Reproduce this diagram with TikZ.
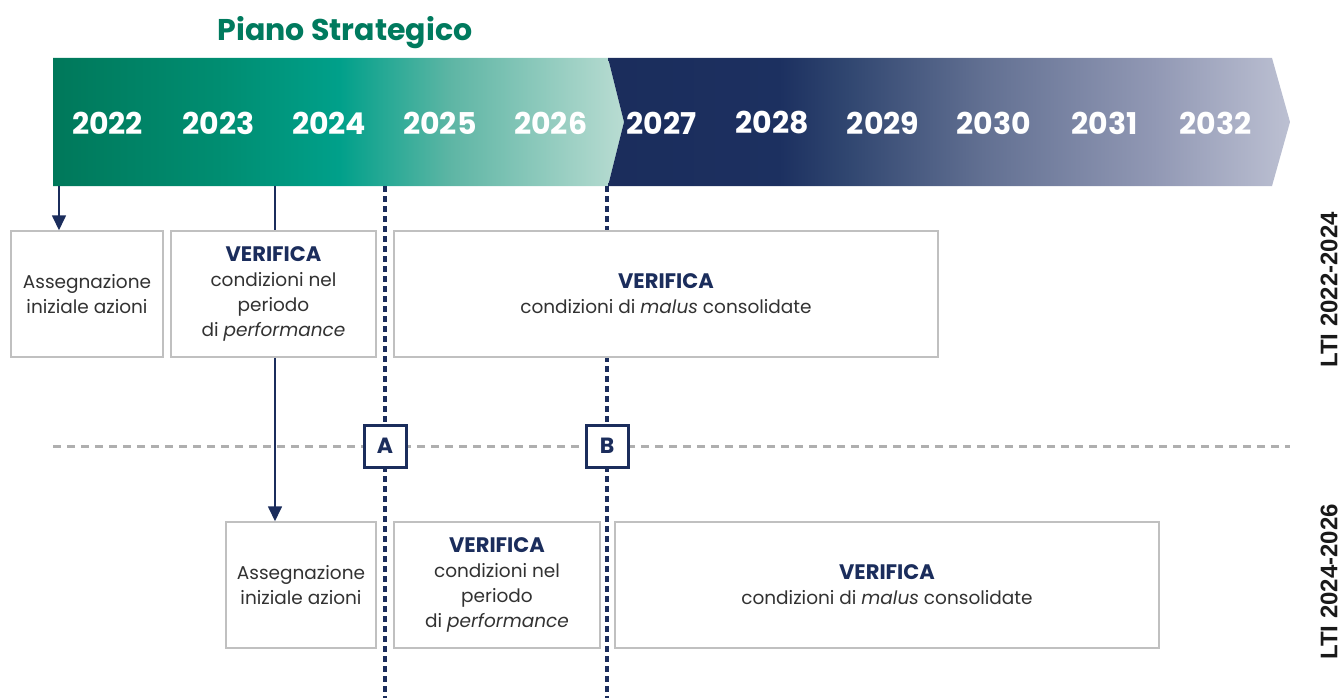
\documentclass[tikz,border=0pt]{standalone}
\usepackage{fontspec}
\setmainfont{Poppins}
\newfontfamily\lblfont{Liberation Sans}
\usetikzlibrary{arrows.meta}
\definecolor{navy}{RGB}{27,45,92}
\definecolor{tgreen}{RGB}{0,122,94}
\definecolor{boxgray}{RGB}{192,192,192}
\definecolor{txtgray}{RGB}{50,50,50}
\definecolor{dashgray}{RGB}{175,175,175}
\definecolor{g0}{RGB}{0,120,90}
\definecolor{g1}{RGB}{0,142,114}
\definecolor{g2}{RGB}{0,160,138}
\definecolor{g3}{RGB}{95,182,165}
\definecolor{g4}{RGB}{185,220,210}
\definecolor{b0}{RGB}{27,45,92}
\definecolor{b1}{RGB}{28,48,96}
\definecolor{b2}{RGB}{48,70,112}
\definecolor{b3}{RGB}{98,112,146}
\definecolor{b4}{RGB}{145,152,180}
\definecolor{b5}{RGB}{188,192,210}
\pgfdeclarehorizontalshading{greenshade}{100bp}{color(0bp)=(g0); color(25bp)=(g0); color(40bp)=(g1); color(50bp)=(g2); color(60bp)=(g3); color(75bp)=(g4); color(100bp)=(g4)}
\pgfdeclarehorizontalshading{blueshade}{100bp}{color(0bp)=(b0); color(25bp)=(b0); color(37.5bp)=(b1); color(42.5bp)=(b2); color(52.5bp)=(b3); color(65bp)=(b4); color(75bp)=(b5); color(100bp)=(b5)}
\tikzset{
  box/.style={draw=boxgray, line width=1.5pt, fill=white, inner sep=0pt, align=center,
    text=txtgray, font=\fontsize{18.5}{25}\selectfont},
  yearlbl/.style={text=white, font=\fontsize{30}{32}\selectfont\bfseries},
  mk/.style={draw=navy, line width=3pt, fill=white, minimum size=42pt, inner sep=0pt,
    text=navy, font=\fontsize{22}{24}\selectfont\bfseries},
  arr/.style={draw=navy, line width=1.7pt, -{Triangle[length=15pt,width=14pt]}},
  conn/.style={draw=navy, line width=1.7pt},
  dotline/.style={draw=navy, line width=3.2pt, dash pattern=on 6pt off 4pt},
  grayline/.style={draw=dashgray, line width=3pt, dash pattern=on 8pt off 6pt},
  ltilbl/.style={rotate=90, font=\lblfont\fontsize{24}{26}\selectfont\bfseries, text=black!90}
}
\newcommand{\verif}{{\color{navy}\fontsize{21}{25}\selectfont\bfseries VERIFICA}}
\begin{document}
\begin{tikzpicture}[x=1pt,y=-1pt]
\useasboundingbox (0,0) rectangle (1344,698);
% title
\node[text=tgreen, font=\fontsize{30}{32}\selectfont\bfseries] (title) at (345,33) {Piano Strategico};
% banner
\shade[shading=greenshade] (53,58) -- (608,58) -- (624,122) -- (608,186) -- (53,186) -- cycle;
\shade[shading=blueshade] (608,58) -- (1272,58) -- (1290,122) -- (1272,186) -- (608,186) -- (624,122) -- cycle;
\foreach \y [count=\i from 0] in {2022,2023,2024,2025,2026,2027,2028,2029,2030,2031,2032}{
  \node[yearlbl] (y\y) at (107.5+110.8*\i,123) {\y};
}
% coordinates
\coordinate (s1) at (59,186);
\coordinate (s2) at (275,186);
\coordinate (dA) at (385,186);
\coordinate (dAe) at (385,698);
\coordinate (dB) at (607,186);
\coordinate (dBe) at (607,698);
\coordinate (gl) at (53,446);
\coordinate (gr) at (1290,446);
% gray separator
\draw[grayline] (gl) -- (gr);
% dotted verticals
\draw[dotline] (dA) -- (dAe);
\draw[dotline] (dB) -- (dBe);
% boxes row 1
\node[box, minimum width=152pt, minimum height=126pt] (b1) at (87,294) {Assegnazione\\iniziale azioni};
\node[box, minimum width=205pt, minimum height=126pt] (b2) at (273.5,294) {\verif\\condizioni nel\\periodo\\di \textit{performance}};
\node[box, minimum width=544pt, minimum height=126pt] (b3) at (666,294) {\verif\\condizioni di \textit{malus} consolidate};
% boxes row 2
\node[box, minimum width=150pt, minimum height=126pt] (b4) at (301,585) {Assegnazione\\iniziale azioni};
\node[box, minimum width=206pt, minimum height=126pt] (b5) at (497,585) {\verif\\condizioni nel\\periodo\\di \textit{performance}};
\node[box, minimum width=544pt, minimum height=126pt] (b6) at (887,585) {\verif\\condizioni di \textit{malus} consolidate};
% markers
\node[mk] (A) at (385,446) {A};
\node[mk] (B) at (607,446) {B};
% connectors
\draw[arr] (s1) -- (s1 |- b1.north);
\draw[conn] (s2) -- (s2 |- b2.north);
\draw[arr] (s2 |- b2.south) -- (s2 |- b4.north);
% side labels
\node[ltilbl] (l1) at (1329,290) {LTI 2022-2024};
\node[ltilbl] (l2) at (1329,582) {LTI 2024-2026};
\end{tikzpicture}
\end{document}
